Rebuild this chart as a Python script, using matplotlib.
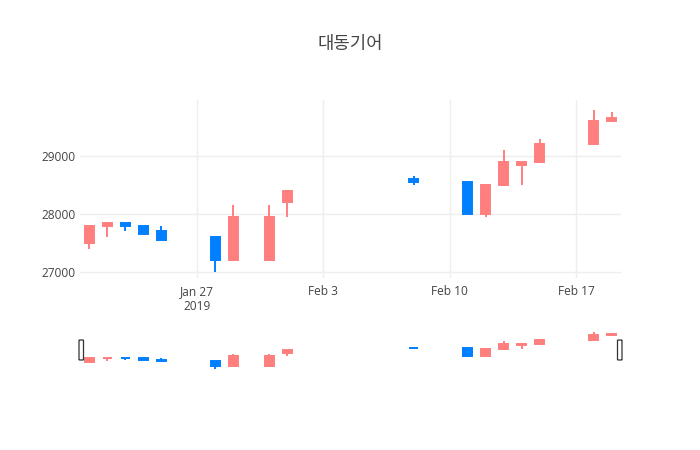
import numpy as np
import pandas as pd
import matplotlib
matplotlib.use('Agg')
import matplotlib.pyplot as plt
import matplotlib.dates as mdates
from matplotlib.patches import FancyBboxPatch

dates = ['2019-01-21', '2019-01-22', '2019-01-23', '2019-01-24', '2019-01-25',
         '2019-01-28', '2019-01-29', '2019-01-31', '2019-02-01', '2019-02-08',
         '2019-02-11', '2019-02-12', '2019-02-13', '2019-02-14', '2019-02-15',
         '2019-02-18', '2019-02-19']
open_ = [27500, 27800, 27850, 27800, 27700, 27600, 27200, 27200, 28200, 28600,
         28550, 28000, 28500, 28850, 28900, 29200, 29600]
high = [27800, 27850, 27850, 27800, 27800, 27600, 28150, 28150, 28400, 28650,
        28550, 28500, 29100, 28900, 29300, 29800, 29750]
low = [27400, 27600, 27700, 27650, 27550, 27000, 27200, 27200, 27950, 28500,
       28000, 27950, 28500, 28500, 28900, 29200, 29600]
close = [27800, 27850, 27800, 27650, 27550, 27200, 27950, 27950, 28400, 28550,
         28000, 28500, 28900, 28900, 29200, 29600, 29650]
title = '대동기어'
y_ticks = [27000, 28000, 29000]
x_ticks = ['2019-01-27', '2019-02-03', '2019-02-10', '2019-02-17']
x_tick_labels = ['Jan 27\n2019', 'Feb 3', 'Feb 10', 'Feb 17']

UP = '#ff7f7f'
DOWN = '#0080ff'
TXT = '#444444'
GRID = '#eeeeee'

plt.rcParams['font.family'] = ['Open Sans', 'DejaVu Sans']

x = mdates.date2num(pd.to_datetime(dates))
o = np.array(open_)
h = np.array(high)
l = np.array(low)
c = np.array(close)
colors = [UP if cc >= oo else DOWN for oo, cc in zip(o, c)]

xlim = (x.min() - 0.5, x.max() + 0.5)
ylim = (l.min() - 103, h.max() + 165)


def candles(ax, lw, width):
    # wicks first, bodies with an outline on top (plotly style)
    ax.vlines(x, l, h, colors=colors, linewidth=lw, zorder=2)
    bottom = np.minimum(o, c)
    height = np.abs(c - o)
    ax.bar(x, height, bottom=bottom, width=width, color=colors,
           edgecolor=colors, linewidth=lw, zorder=3)
    ax.set_xlim(xlim)
    ax.set_ylim(ylim)


fig = plt.figure(figsize=(7, 4.5), dpi=100)

ax = fig.add_axes([80 / 700, 1 - 278 / 450, 541 / 700, 178 / 450])
candles(ax, 1.4, 0.5)
ax.set_yticks(y_ticks)
ax.set_yticklabels([str(v) for v in y_ticks])
ax.set_xticks(mdates.date2num(pd.to_datetime(x_ticks)))
ax.set_xticklabels(x_tick_labels, multialignment='center')
ax.tick_params(axis='both', length=0, labelsize=8.6, colors=TXT)
ax.tick_params(axis='x', pad=5)
ax.tick_params(axis='y', pad=3)
ax.grid(True, color=GRID, linewidth=1)
ax.set_axisbelow(True)
for s in ax.spines.values():
    s.set_visible(False)

# range slider
sl = fig.add_axes([80 / 700, 1 - 370 / 450, 541 / 700, 40 / 450])
candles(sl, 1.4, 0.5)
sl.set_xticks([])
sl.set_yticks([])
for s in sl.spines.values():
    s.set_visible(False)
for xf in (0.0, 1.0):
    sl.add_patch(FancyBboxPatch((xf - 3.5 / 541 if xf else xf - 1 / 541, 0.25),
                                4.5 / 541, 0.5,
                                boxstyle='round,pad=0,rounding_size=0.004',
                                transform=sl.transAxes, facecolor='white',
                                edgecolor='#333333', linewidth=0.9,
                                clip_on=False, zorder=5))

fig.text(0.5, 1 - 44 / 450, title, ha='center', va='center', fontsize=12.8,
         color=TXT, family=['Noto Sans CJK KR', 'DejaVu Sans'])

fig.savefig('out.png', dpi=100, facecolor='white')
